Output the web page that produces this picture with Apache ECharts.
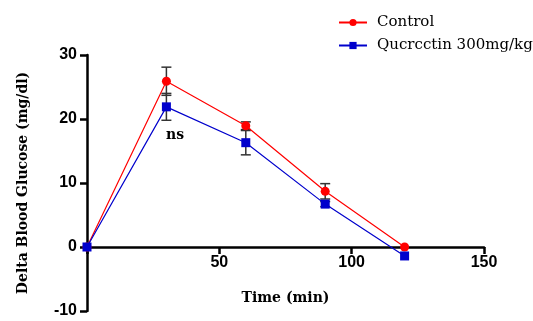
<!DOCTYPE html>
<html>
<head>
<meta charset="utf-8">
<script src="https://cdn.jsdelivr.net/npm/echarts@6/dist/echarts.min.js"></script>
<style>
  html, body { margin: 0; padding: 0; background: #fff; }
  #chart { width: 533px; height: 321px; }
</style>
</head>
<body>
<div id="chart"></div>
<script>
// time points (min)
const times = [0, 30, 60, 90, 120]
// mean delta glucose and SEM
const control = [0, 25.9, 18.95, 8.7, 0]
const controlErr = [0, 2.2, 0.6, 1.2, 0]
const quercetin = [0, 21.9, 16.3, 6.7, -1.4]
const quercetinErr = [0, 2.1, 1.9, 0.4, 0]
const xTicks = [0, 50, 100, 150]
const yTicks = [-10, 0, 10, 20, 30]

const chart = echarts.init(document.getElementById('chart'))

function pairs(ys) {
  return times.map((t, i) => [t, ys[i]])
}

function errData(ys, errs) {
  return times.map((t, i) => [t, ys[i] - errs[i], ys[i] + errs[i]])
}

// draws vertical whisker with caps
function renderErr(params, api) {
  const lo = api.coord([api.value(0), api.value(1)])
  const hi = api.coord([api.value(0), api.value(2)])
  if (Math.abs(lo[1] - hi[1]) < 1) return
  const w = 5
  const style = { stroke: '#333', lineWidth: 1.5 }
  return {
    type: 'group',
    children: [
      { type: 'line', shape: { x1: hi[0], y1: hi[1], x2: lo[0], y2: lo[1] }, style },
      { type: 'line', shape: { x1: hi[0] - w, y1: hi[1], x2: hi[0] + w, y2: hi[1] }, style },
      { type: 'line', shape: { x1: lo[0] - w, y1: lo[1], x2: lo[0] + w, y2: lo[1] }, style }
    ]
  }
}

const axisLine = { lineStyle: { color: '#000', width: 2.5 } }
const tickLabel = { color: '#000', fontFamily: 'Liberation Sans', fontWeight: 'bold', fontSize: 16 }
const titleFont = { color: '#000', fontFamily: 'DejaVu Serif', fontWeight: 'bold', fontSize: 14 }
const xMin = xTicks[0]
const xMax = xTicks[xTicks.length - 1]

const option = {
  animation: false,
  grid: [
    // plotting grid, full y range
    { left: 87, right: 49, top: 55, bottom: 10, containLabel: false, outerBoundsMode: 'none' },
    // label grid, bottom edge sits on y = 0
    { left: 87, right: 49, top: 55, bottom: 74, containLabel: false, outerBoundsMode: 'none' }
  ],
  legend: {
    orient: 'vertical',
    left: 333,
    top: 10,
    itemWidth: 28,
    itemHeight: 9,
    itemGap: 8,
    textStyle: { color: '#000', fontFamily: 'DejaVu Serif', fontSize: 15, padding: [0, 0, 0, 5] },
    data: ['Control', 'Qucrcctin 300mg/kg']
  },
  xAxis: [
    {
      gridIndex: 0,
      type: 'value',
      min: xMin,
      max: xMax,
      interval: 50,
      axisLine: { onZero: true, ...axisLine },
      axisTick: { length: 7, lineStyle: { color: '#000', width: 2.5 } },
      axisLabel: { show: false },
      splitLine: { show: false }
    },
    {
      gridIndex: 1,
      type: 'value',
      min: xMin,
      max: xMax,
      interval: 50,
      name: 'Time (min)',
      nameLocation: 'middle',
      nameGap: 44,
      nameTextStyle: titleFont,
      axisLine: { show: false },
      axisTick: { show: false },
      axisLabel: { ...tickLabel, margin: 8, formatter: v => (v === 0 ? '' : v) },
      splitLine: { show: false }
    }
  ],
  yAxis: [
    {
      gridIndex: 0,
      type: 'value',
      min: yTicks[0],
      max: yTicks[yTicks.length - 1],
      interval: 10,
      name: 'Delta Blood Glucose (mg/dl)',
      nameLocation: 'middle',
      nameGap: 57,
      nameTextStyle: titleFont,
      axisLine: { onZero: false, show: true, ...axisLine },
      axisTick: { show: true, length: 7, lineStyle: { color: '#000', width: 2.5 } },
      axisLabel: { ...tickLabel, margin: 10 },
      splitLine: { show: false }
    },
    {
      gridIndex: 1,
      type: 'value',
      min: 0,
      max: yTicks[yTicks.length - 1],
      show: false
    }
  ],
  series: [
    {
      type: 'custom',
      renderItem: renderErr,
      data: errData(control, controlErr),
      z: 1,
      silent: true
    },
    {
      type: 'custom',
      renderItem: renderErr,
      data: errData(quercetin, quercetinErr),
      z: 1,
      silent: true
    },
    {
      name: 'Control',
      type: 'line',
      data: pairs(control),
      symbol: 'circle',
      symbolSize: 9,
      color: '#ff0000',
      lineStyle: { width: 1.2, color: '#ff0000' },
      itemStyle: { color: '#ff0000' },
      z: 3
    },
    {
      name: 'Qucrcctin 300mg/kg',
      type: 'line',
      data: pairs(quercetin),
      symbol: 'rect',
      symbolSize: 9,
      color: '#0000cc',
      lineStyle: { width: 1.2, color: '#0000cc' },
      itemStyle: { color: '#0000cc' },
      z: 4
    }
  ],
  graphic: [
    {
      type: 'text',
      left: 166,
      top: 128,
      style: { text: 'ns', fill: '#000', font: 'bold 14px "DejaVu Serif"' }
    }
  ]
}

chart.setOption(option)
</script>
</body>
</html>
